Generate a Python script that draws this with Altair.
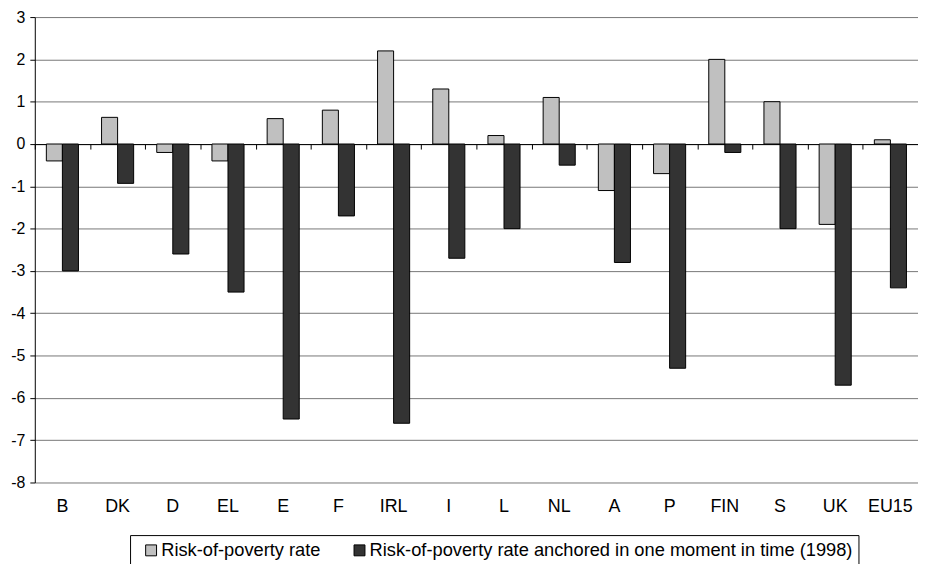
import altair as alt
import pandas as pd

countries = ["B", "DK", "D", "EL", "E", "F", "IRL", "I", "L", "NL", "A", "P", "FIN", "S", "UK", "EU15"]
rate = [-0.4, 0.63, -0.2, -0.4, 0.6, 0.8, 2.2, 1.3, 0.2, 1.1, -1.1, -0.7, 2.0, 1.0, -1.9, 0.1]
anchored = [-3.0, -0.93, -2.6, -3.5, -6.5, -1.7, -6.6, -2.7, -2.0, -0.5, -2.8, -5.3, -0.2, -2.0, -5.7, -3.4]
series = ["Risk-of-poverty rate", "Risk-of-poverty rate anchored in one moment in time (1998)"]
colors = ["#c0c0c0", "#333333"]
y_ticks = [-8, -7, -6, -5, -4, -3, -2, -1, 0, 1, 2, 3]

rows = []
for c, a, b in zip(countries, rate, anchored):
    rows.append({"country": c, "series": series[0], "value": a})
    rows.append({"country": c, "series": series[1], "value": b})
df = pd.DataFrame(rows)

W = 890
H = 469
FONT = "Liberation Sans"

xscale = alt.Scale(paddingInner=0, paddingOuter=0)
yscale = alt.Scale(domain=[-8, 3], nice=False)

bars = alt.Chart(df).mark_bar(stroke="black", strokeWidth=1).encode(
    x=alt.X("country:N", sort=countries, scale=xscale, title=None,
            axis=alt.Axis(orient="bottom", offset=-341, labels=False, domain=True,
                          domainColor="black", domainWidth=1, ticks=True, tickBand="extent",
                          tickSize=5, tickColor="black", grid=False)),
    xOffset=alt.XOffset("series:N", scale=alt.Scale(domain=series, paddingOuter=0.72, paddingInner=0)),
    y=alt.Y("value:Q", scale=yscale, title=None,
            axis=alt.Axis(values=y_ticks, grid=True, gridColor="#777777", gridWidth=1,
                          domain=True, domainColor="black", ticks=True, tickSize=5,
                          tickColor="black", labelFontSize=16, labelFont=FONT,
                          labelColor="black", labelPadding=5,
                          labelExpr="toString(datum.value)")),
    color=alt.Color("series:N", scale=alt.Scale(domain=series, range=colors),
                    legend=alt.Legend(title=None, orient="none", legendX=96, legendY=522,
                                      direction="horizontal", symbolType="square",
                                      symbolSize=121, symbolStrokeColor="black",
                                      symbolStrokeWidth=1, labelFontSize=18.4, labelFont=FONT,
                                      labelColor="black", strokeColor="black", fillColor="white",
                                      padding=6, columnPadding=24, labelOffset=1, labelLimit=0,
                                      symbolOffset=6)),
)

labels_layer = alt.Chart(df).mark_bar(opacity=0).encode(
    x=alt.X("country:N", sort=countries, scale=xscale, title=None,
            axis=alt.Axis(orient="bottom", domain=False, ticks=False, tickSize=0,
                          labelFontSize=18, labelFont=FONT, labelColor="black",
                          labelPadding=15, labelAngle=0, grid=False)),
)

chart = alt.layer(bars, labels_layer).resolve_axis(x="independent").properties(
    width=W, height=H,
    autosize=alt.AutoSizeParams(type="none"),
    padding={"left": 27, "top": 7, "right": 0, "bottom": 80},
).configure_view(stroke=None)

chart.save("out.html", embed_options={"renderer": "svg", "actions": False})
